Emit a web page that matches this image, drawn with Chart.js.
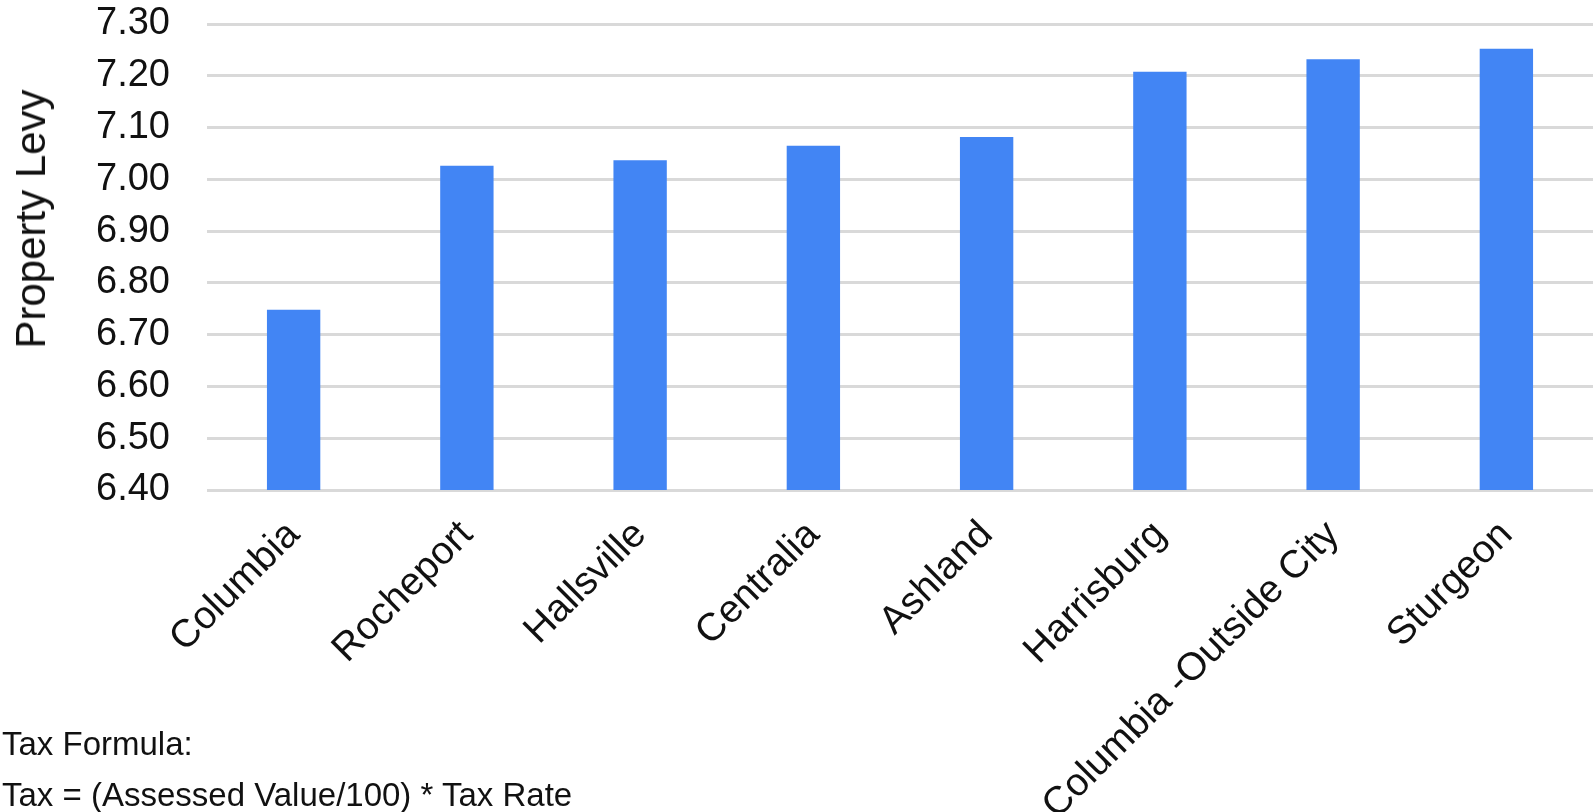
<!DOCTYPE html>
<html>
<head>
<meta charset="utf-8">
<script src="https://cdn.jsdelivr.net/npm/chart.js@4/dist/chart.umd.min.js"></script>
<style>
  html, body { margin: 0; padding: 0; background: #ffffff; }
  #wrap { position: relative; width: 1595px; height: 812px; overflow: hidden; }
  #levy { position: absolute; left: 0; top: 0; }
  .axis-title {
    position: absolute; left: 31px; top: 219px;
    transform: translate(-50%, -50%) rotate(-90deg);
    font-family: "Liberation Sans", Arial, sans-serif;
    font-size: 42px; line-height: 1; color: #111111;
    white-space: nowrap;
  }
  .note {
    position: absolute; left: 2px; top: 718px;
    font-family: "Liberation Sans", Arial, sans-serif;
    font-size: 33px; line-height: 51px; color: #111111;
    white-space: nowrap;
  }
</style>
</head>
<body>
<div id="wrap">
  <canvas id="levy" width="1595" height="812"></canvas>
  <div class="axis-title" id="yTitle"></div>
  <div class="note">Tax Formula:<br>Tax = (Assessed Value/100) * Tax Rate</div>
</div>
<script>
// Property levy by taxing area
const places = ['Columbia', 'Rocheport', 'Hallsville', 'Centralia', 'Ashland',
                'Harrisburg', 'Columbia -Outside City', 'Sturgeon'];
const levy = [6.748, 7.026, 7.037, 7.065, 7.082, 7.208, 7.232, 7.252];

// Value axis range and tick step
const yMin = 6.40;
const yMax = 7.30;
const yStep = 0.10;
const yTitle = 'Property Levy';

const FONT = '"Liberation Sans", Arial, sans-serif';

document.getElementById('yTitle').textContent = yTitle;

new Chart(document.getElementById('levy'), {
  type: 'bar',
  data: {
    labels: places,
    datasets: [{
      data: levy,
      backgroundColor: '#4285f4',
      borderWidth: 0,
      barPercentage: 0.308,
      categoryPercentage: 1.0
    }]
  },
  options: {
    responsive: false,
    animation: false,
    devicePixelRatio: 1,
    layout: { padding: { top: 24, right: 2, bottom: 0, left: 0 } },
    plugins: {
      legend: { display: false },
      tooltip: { enabled: false }
    },
    scales: {
      x: {
        grid: { display: false, drawTicks: false },
        border: { display: false },
        ticks: {
          color: '#111111',
          font: { family: FONT, size: 39 },
          minRotation: 45,
          maxRotation: 45,
          autoSkip: false,
          padding: 22
        },
        afterFit(scale) {
          scale.height = 322;
          scale.paddingLeft = 0;
          scale.paddingRight = 0;
        }
      },
      y: {
        min: yMin,
        max: yMax,
        grid: { color: '#d9d9d9', lineWidth: 3, drawTicks: false },
        border: { display: false },
        ticks: {
          stepSize: yStep,
          color: '#111111',
          font: { family: FONT, size: 38 },
          padding: 37,
          callback: (v) => Number(v).toFixed(2)
        },
        afterFit(scale) {
          scale.width = 207;
          scale.paddingTop = 0;
          scale.paddingBottom = 0;
        }
      }
    }
  }
});
</script>
</body>
</html>
